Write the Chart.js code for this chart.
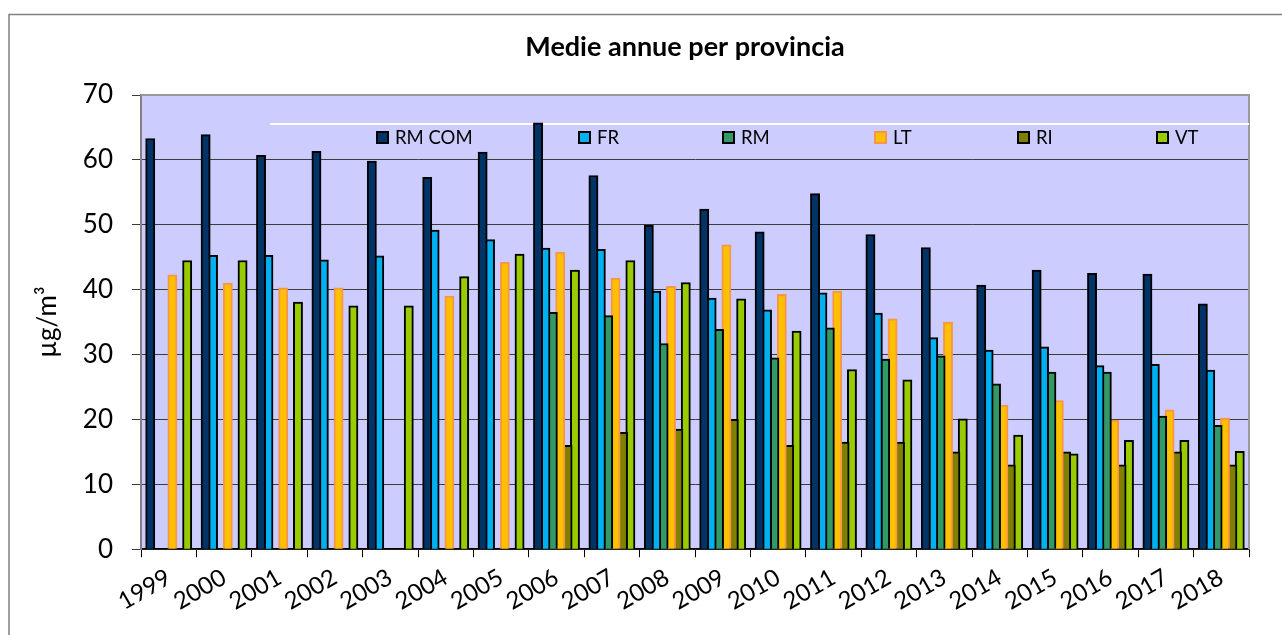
<!DOCTYPE html>
<html>
<head>
<meta charset="utf-8">
<script src="https://cdn.jsdelivr.net/npm/chart.js@4.4.1/dist/chart.umd.min.js"></script>
<style>
    html, body { margin: 0; padding: 0; background: #fff; overflow: hidden; }
    #wrap { width: 1282px; height: 635px; }
</style>
</head>
<body>
<div id="wrap"><canvas id="chart" width="1282" height="635"></canvas></div>
<script>
// Medie annue per provincia (µg/m³)
const years = ["1999", "2000", "2001", "2002", "2003", "2004", "2005", "2006", "2007", "2008",
               "2009", "2010", "2011", "2012", "2013", "2014", "2015", "2016", "2017", "2018"];
const rmCom = [63.3, 63.9, 60.7, 61.3, 59.8, 57.3, 61.2, 65.7, 57.6, 49.9,
               52.4, 48.9, 54.8, 48.5, 46.5, 40.7, 43.0, 42.5, 42.4, 37.8];
const fr = [null, 45.3, 45.3, 44.6, 45.2, 49.2, 47.7, 46.4, 46.2, 39.8,
            38.7, 36.9, 39.5, 36.4, 32.6, 30.7, 31.2, 28.3, 28.5, 27.6];
const rm = [null, null, null, null, null, null, null, 36.5, 36.0, 31.7,
            33.9, 29.5, 34.1, 29.3, 29.8, 25.5, 27.3, 27.3, 20.5, 19.1];
const lt = [42.3, 41.0, 40.3, 40.3, null, 39.0, 44.2, 45.8, 41.8, 40.5,
            46.9, 39.3, 39.8, 35.5, 35.0, 22.2, 22.9, 19.9, 21.5, 20.2];
const ri = [null, null, null, null, null, null, null, 16.0, 18.0, 18.5,
            20.0, 16.0, 16.5, 16.5, 15.0, 13.0, 15.0, 13.0, 15.0, 13.0];
const vt = [44.5, 44.5, 38.1, 37.5, 37.5, 42.0, 45.5, 43.0, 44.5, 41.1,
            38.6, 33.6, 27.7, 26.1, 20.1, 17.6, 14.7, 16.8, 16.8, 15.1];
const yTicks = [0, 10, 20, 30, 40, 50, 60, 70];

const FONT = "Lato, 'Open Sans', sans-serif";

function series(label, data, fill, border) {
    return {
        label: label,
        data: data,
        backgroundColor: fill,
        borderColor: border,
        borderWidth: 2,
        borderSkipped: "bottom",
        barPercentage: 1.25,
        categoryPercentage: 0.8,
    };
}

// background, frame, title and the in-plot legend
const decor = {
    id: "decor",
    beforeDraw(chart) {
        const { ctx, chartArea: a } = chart;
        ctx.save();
        ctx.fillStyle = "#ffffff";
        ctx.fillRect(0, 0, chart.width, chart.height);
        ctx.strokeStyle = "#808080";
        ctx.lineWidth = 1.5;
        ctx.beginPath();
        ctx.moveTo(9, chart.height);
        ctx.lineTo(9, 14.5);
        ctx.lineTo(chart.width, 14.5);
        ctx.stroke();
        ctx.fillStyle = "#ccccff";
        ctx.fillRect(a.left, a.top, a.right - a.left, a.bottom - a.top);

        ctx.fillStyle = "#000";
        ctx.font = "bold 27px " + FONT;
        ctx.textAlign = "center";
        ctx.textBaseline = "middle";
        ctx.fillText("Medie annue per provincia", 685, 47);
        ctx.restore();
    },
    beforeDatasetsDraw(chart) {
        const { ctx, chartArea: a } = chart;
        ctx.save();
        // plot border top / right
        ctx.strokeStyle = "#999999";
        ctx.lineWidth = 2;
        ctx.beginPath();
        ctx.moveTo(a.left, a.top);
        ctx.lineTo(a.right, a.top);
        ctx.lineTo(a.right, a.bottom);
        ctx.stroke();
        // legend
        ctx.strokeStyle = "#ffffff";
        ctx.lineWidth = 2;
        ctx.beginPath();
        ctx.moveTo(270, 124);
        ctx.lineTo(a.right, 124);
        ctx.stroke();
        const xs = [376, 578, 722, 874, 1017, 1156];
        ctx.font = "18.5px " + FONT;
        ctx.textAlign = "left";
        ctx.textBaseline = "middle";
        chart.data.datasets.forEach((ds, i) => {
            ctx.fillStyle = ds.backgroundColor;
            ctx.fillRect(xs[i], 131, 13, 13);
            ctx.strokeStyle = ds.borderColor;
            ctx.lineWidth = 2;
            ctx.strokeRect(xs[i] + 1, 132, 11, 11);
            ctx.fillStyle = "#000";
            ctx.fillText(ds.label, xs[i] + 19, 138);
        });
        ctx.restore();
    },
};

new Chart(document.getElementById("chart"), {
    type: "bar",
    data: {
        labels: years,
        datasets: [
            series("RM COM", rmCom, "#003366", "#000000"),
            series("FR", fr, "#00b0f0", "#000000"),
            series("RM", rm, "#339966", "#000000"),
            series("LT", lt, "#ffc000", "#f79646"),
            series("RI", ri, "#808000", "#000000"),
            series("VT", vt, "#99cc00", "#000000"),
        ],
    },
    options: {
        responsive: false,
        animation: false,
        devicePixelRatio: 1,
        layout: { padding: { left: 10, right: 33, top: 95, bottom: 13 } },
        plugins: {
            legend: { display: false },
            title: { display: false },
            tooltip: { enabled: false },
        },
        scales: {
            x: {
                border: { color: "#000", width: 1.5 },
                grid: { drawOnChartArea: false, drawTicks: true, tickLength: 8, color: "#000", offset: true },
                ticks: {
                    color: "#000",
                    font: { family: FONT, size: 24 },
                    maxRotation: 30,
                    minRotation: 30,
                    autoSkip: false,
                    padding: 6,
                },
            },
            y: {
                min: 0,
                max: 70,
                border: { color: "#808080", width: 2 },
                grid: { color: "#3c3c3c", lineWidth: 1, tickLength: 9, tickColor: "#3c3c3c" },
                afterBuildTicks: (scale) => {
                    scale.ticks = yTicks.map((v) => ({ value: v }));
                },
                afterFit: (scale) => {
                    scale.width = 131;
                },
                ticks: {
                    color: "#000",
                    font: { family: FONT, size: 26 },
                    padding: 19,
                },
                title: {
                    display: true,
                    text: "µg/m³",
                    color: "#000",
                    font: { family: FONT, size: 26 },
                    padding: { top: 22, bottom: 10 },
                },
            },
        },
    },
    plugins: [decor],
});
</script>
</body>
</html>
